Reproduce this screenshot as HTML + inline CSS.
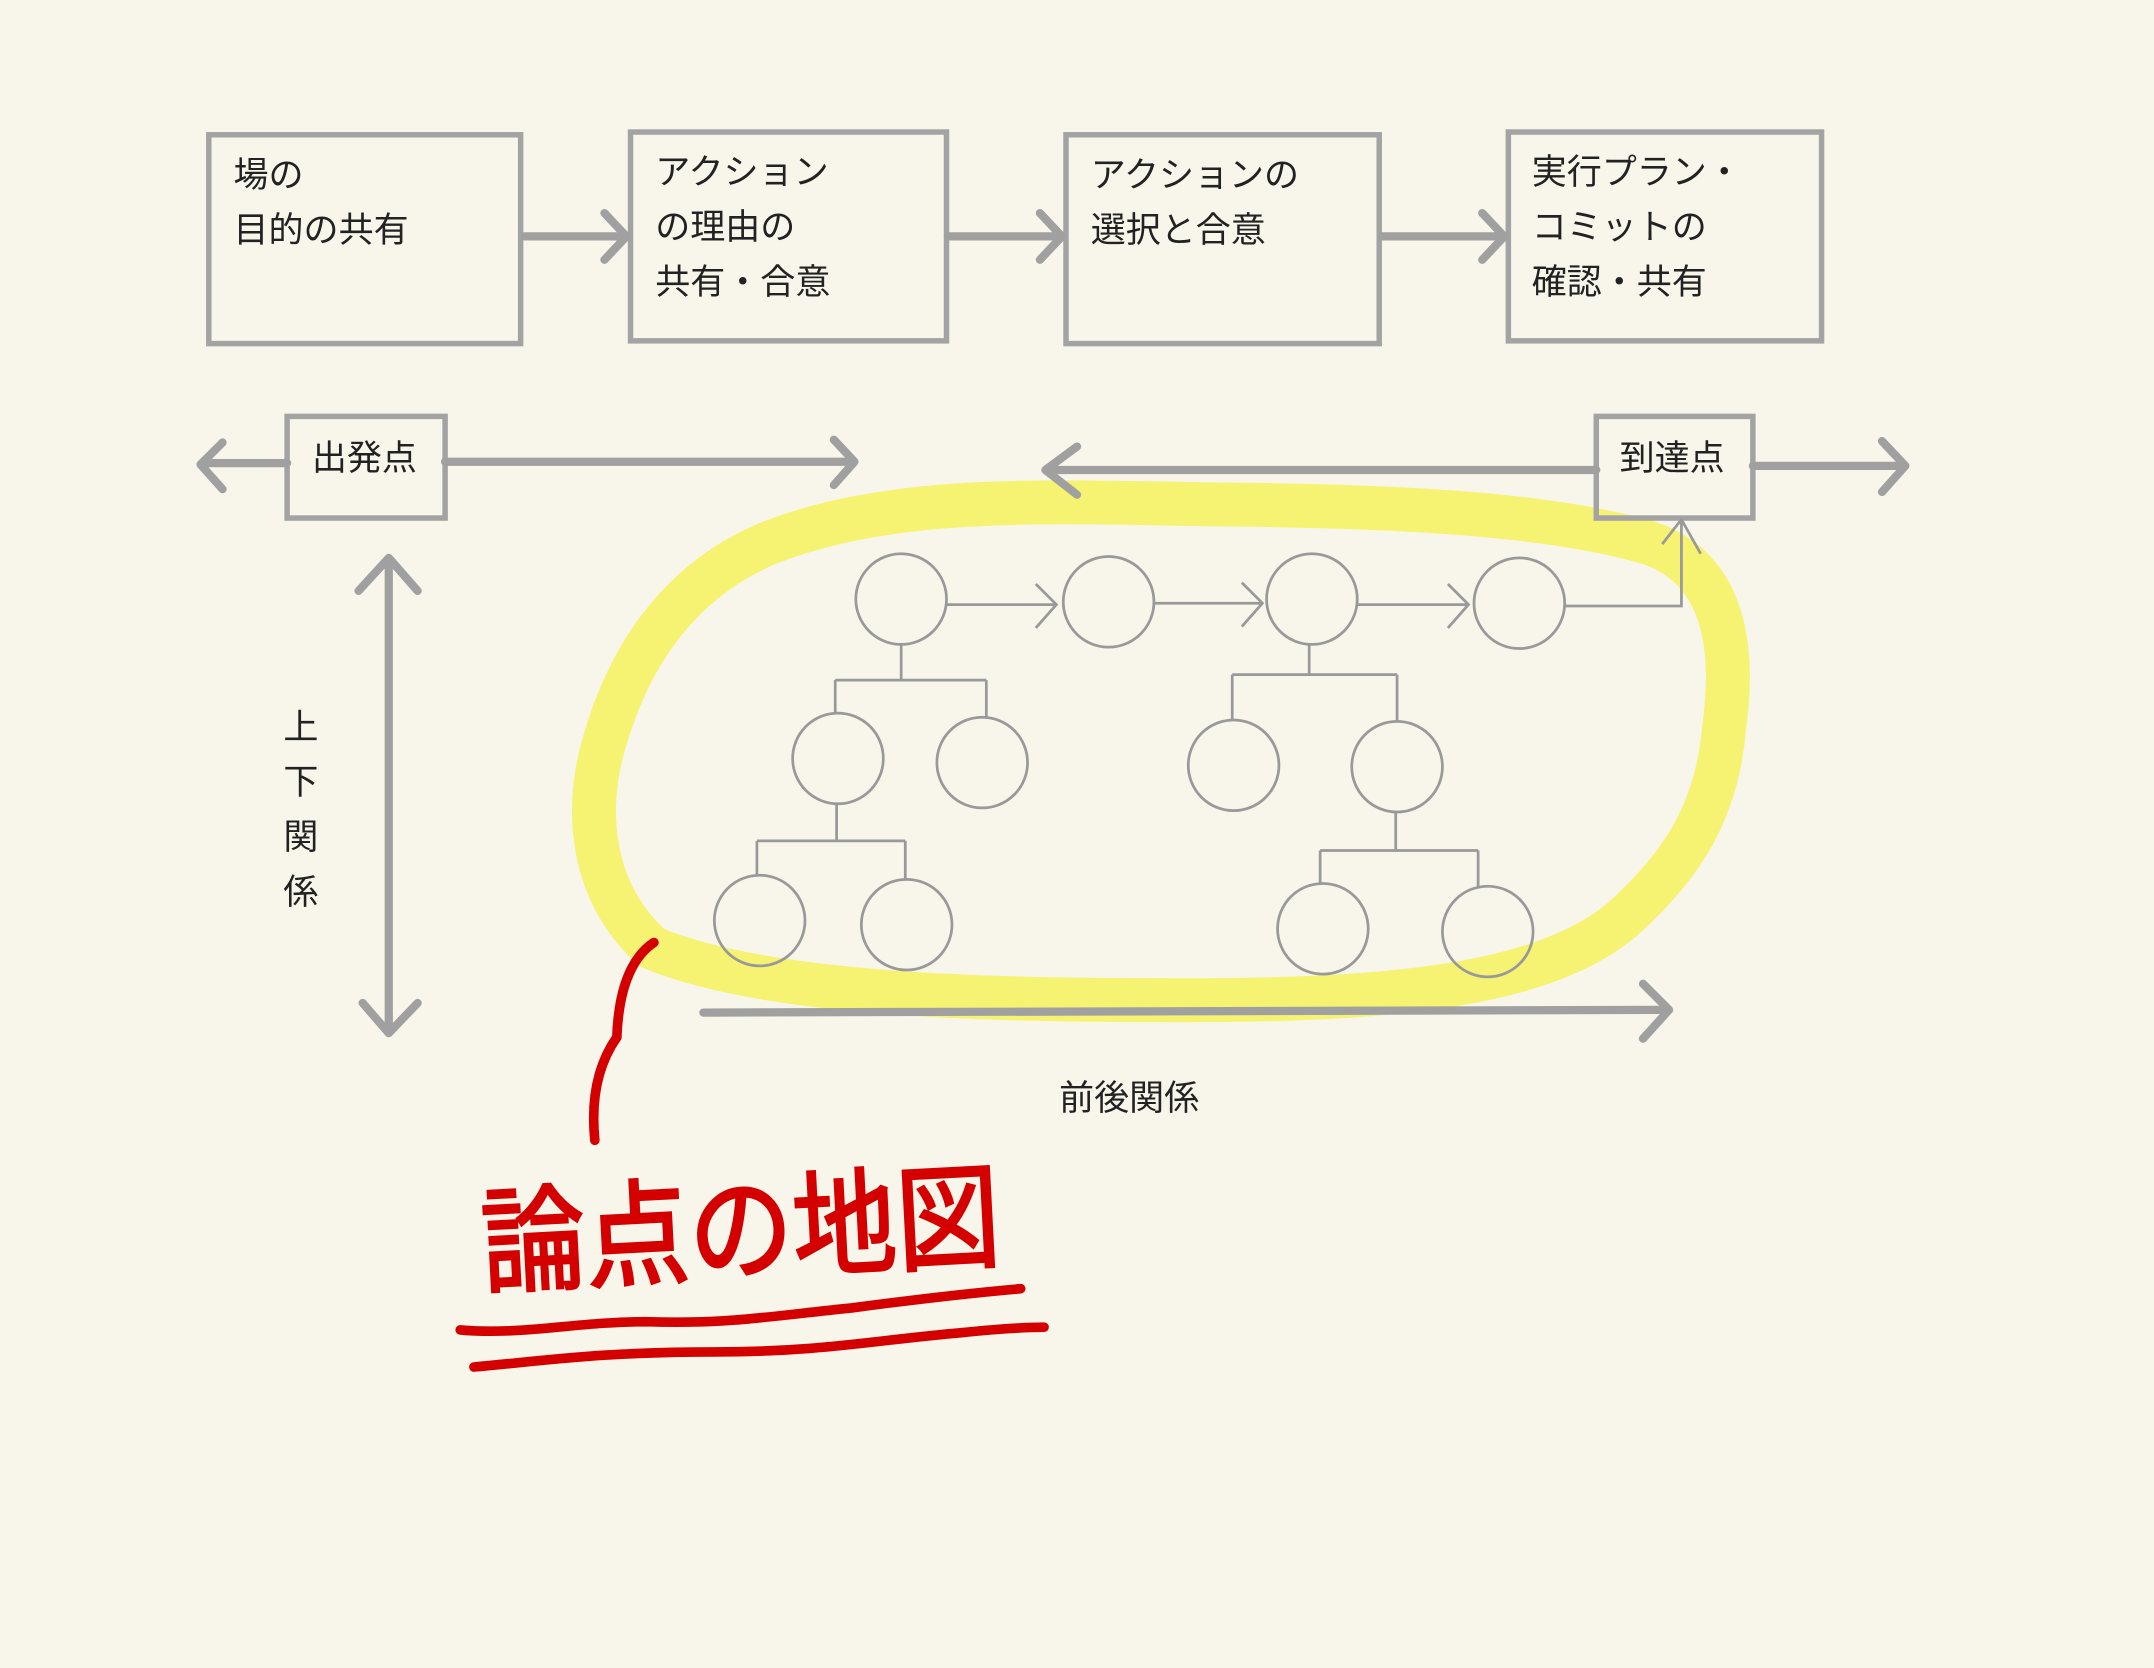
<!DOCTYPE html>
<html><head><meta charset="utf-8"><style>
html,body{margin:0;padding:0;background:#f8f6eb;}
svg{display:block}
text{font-family:"Liberation Sans","Noto Sans CJK JP",sans-serif;fill:#222;}
</style></head><body>
<svg width="2154" height="1668" viewBox="0 0 1568 1214" xmlns="http://www.w3.org/2000/svg">
<rect width="1568" height="1214" fill="#f8f6eb"/>
<path d="M475,690 C430,650 425,590 440,540 C460,470 500,420 560,395 C650,360 760,365 880,367 C1000,368 1120,372 1200,395 C1260,415 1262,480 1255,530 C1250,590 1225,630 1180,670 C1120,720 1000,728 860,728 C720,728 560,725 475,690 Z" fill="none" stroke="#f4f26a" stroke-width="32" opacity="0.95"/>
<g fill="none" stroke="#a3a3a3" stroke-width="4">
<rect x="152" y="98" width="227" height="152"/>
<rect x="459" y="96" width="230" height="152"/>
<rect x="776" y="98" width="228" height="152"/>
<rect x="1098" y="96" width="228" height="152"/>
<rect x="209" y="303" width="115" height="74"/>
<rect x="1162" y="303" width="114" height="74"/>
</g>
<g fill="none" stroke="#a0a0a0" stroke-width="6" stroke-linecap="round" stroke-linejoin="round">
<path d="M382,172 H454 M440,155 L456,172 L440,189"/>
<path d="M690,172 H772 M757,155 L773,172 L757,189"/>
<path d="M1006,172 H1094 M1079,155 L1095,172 L1079,189"/>
<path d="M209,337 H148 M162,322 L146,338 L162,356"/>
<path d="M324,336 H621 M607,320 L622,336 L607,353"/>
<path d="M1162,342 H762 M784,325 L761,342 L784,360"/>
<path d="M1276,339 H1386 M1370,321 L1387,339 L1370,358"/>
<path d="M283,407 V750 M261,430 L283,406 L304,430 M264,730 L283,752 L304,730"/>
<path d="M512,737 L1214,735 M1196,716 L1215,735 L1196,756"/>
</g>
<g fill="none" stroke="#999" stroke-width="2">
<circle cx="656" cy="436" r="33"/><circle cx="807" cy="438" r="33"/>
<circle cx="955" cy="436" r="33"/><circle cx="1106" cy="439" r="33"/>
<circle cx="610" cy="552" r="33"/><circle cx="715" cy="555" r="33"/>
<circle cx="553" cy="670" r="33"/><circle cx="660" cy="673" r="33"/>
<circle cx="898" cy="557" r="33"/><circle cx="1017" cy="558" r="33"/>
<circle cx="963" cy="676" r="33"/><circle cx="1083" cy="678" r="33"/>
<path d="M689,440 H768 M754,425 L769,440 L754,457"/>
<path d="M840,439 H918 M904,424 L919,439 L904,456"/>
<path d="M988,440 H1068 M1054,425 L1069,440 L1054,457"/>
<path d="M1139,441 H1224 V380 M1210,396 L1224,378 L1238,403"/>
<path d="M656,469 V495 M608,495 H718 M608,495 V519 M718,495 V522"/>
<path d="M609,585 V612 M551,612 H659 M551,612 V637 M659,612 V640"/>
<path d="M953,469 V491 M897,491 H1017 M897,491 V524 M1017,491 V525"/>
<path d="M1016,591 V619 M961,619 H1076 M961,619 V643 M1076,619 V645"/>
</g>
<g font-size="25.5">
<text x="170" y="136">場の</text><text x="170" y="176">目的の共有</text>
<text x="477" y="134">アクション</text><text x="477" y="174">の理由の</text><text x="477" y="214">共有・合意</text>
<text x="794" y="136">アクションの</text><text x="794" y="176">選択と合意</text>
<text x="1115" y="134">実行プラン・</text><text x="1115" y="174">コミットの</text><text x="1115" y="214">確認・共有</text>
<text x="227" y="342">出発点</text><text x="1179" y="342">到達点</text>
<text x="219" y="538" text-anchor="middle">上</text><text x="219" y="578" text-anchor="middle">下</text>
<text x="219" y="618" text-anchor="middle">関</text><text x="219" y="658" text-anchor="middle">係</text>
<text x="822" y="808" text-anchor="middle">前後関係</text>
</g>
<g fill="none" stroke="#d40000" stroke-width="7" stroke-linecap="round">
<path d="M476,686 C455,700 450,730 449,755 C435,775 430,800 433,830"/>
<path d="M335,968 C380,972 420,962 470,962 C530,964 560,958 620,952 C680,944 720,940 743,938"/>
<path d="M345,995 C400,990 440,984 520,984 C600,984 640,975 700,970 C730,967 750,966 760,966"/>
</g>
<text x="350" y="925" font-size="84" textLength="378" lengthAdjust="spacingAndGlyphs" style="fill:#d40000;stroke:#d40000;stroke-width:2;" transform="rotate(-3 540 890)">論点の地図</text>
</svg>
</body></html>
